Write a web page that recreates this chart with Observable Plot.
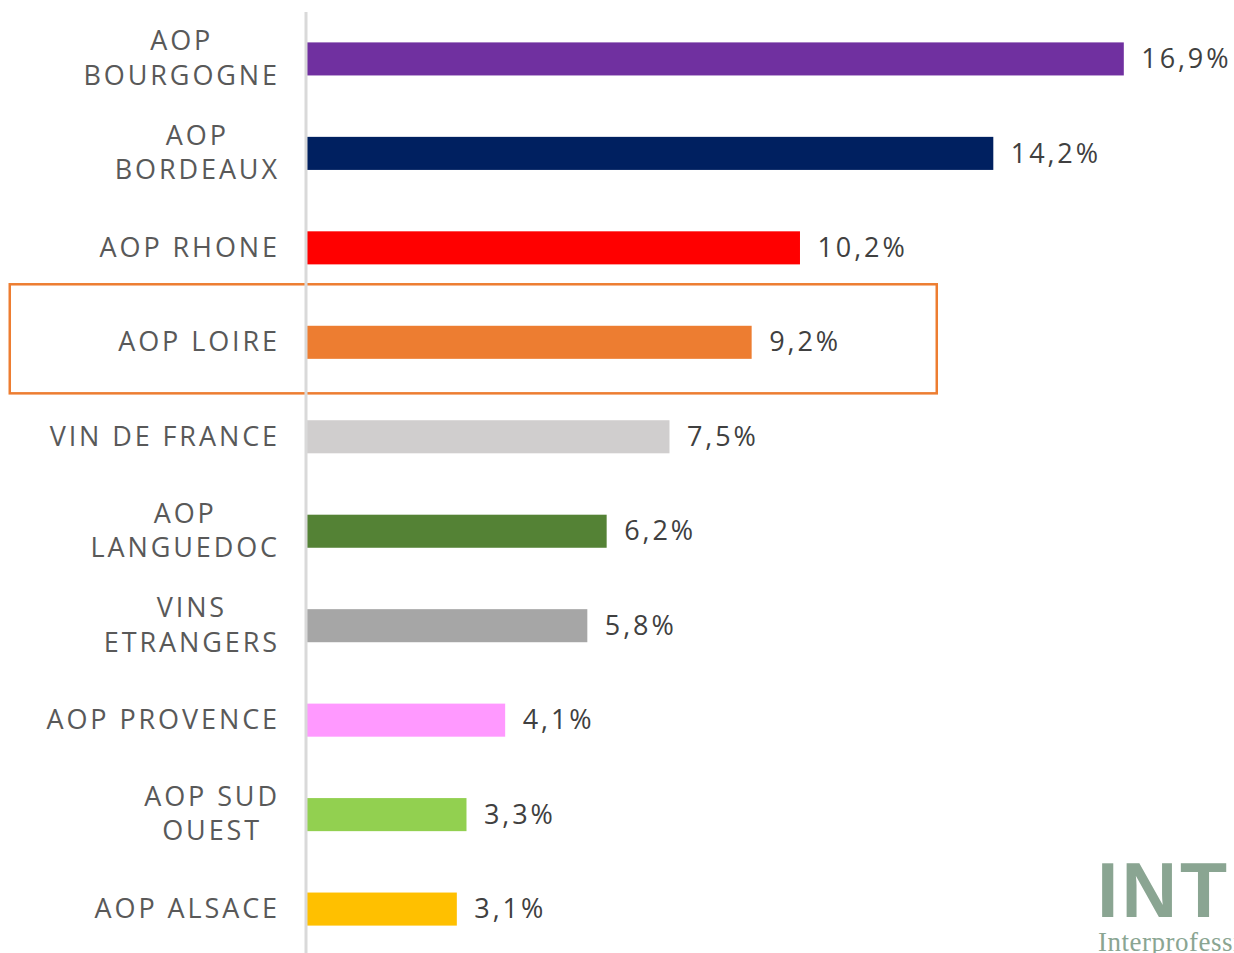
<!DOCTYPE html>
<html><head><meta charset="utf-8">
<script src="https://cdn.jsdelivr.net/npm/d3@7"></script>
<script src="https://cdn.jsdelivr.net/npm/@observablehq/plot@0.6"></script>
<style>
html,body{margin:0;padding:0;background:#fff;}
#chart{width:1234px;height:953px;overflow:hidden;}
</style></head>
<body><div id="chart"></div>
<script>
const categories = ["AOP\nBOURGOGNE","AOP\nBORDEAUX","AOP RHONE","AOP LOIRE","VIN DE FRANCE","AOP\nLANGUEDOC","VINS\nETRANGERS","AOP PROVENCE","AOP SUD\nOUEST","AOP ALSACE"];
const values = [16.9,14.2,10.2,9.2,7.5,6.2,5.8,4.1,3.3,3.1];
const valueLabels = ["16,9%","14,2%","10,2%","9,2%","7,5%","6,2%","5,8%","4,1%","3,3%","3,1%"];
const colors = ["#7030A0","#002060","#FF0000","#ED7D31","#D0CECE","#548235","#A6A6A6","#FF99FF","#92D050","#FFC000"];
const highlighted = "AOP LOIRE";
const highlightRange = [-6.15, 13.03];

const FONT = "Open Sans";
const FS = 27;
const LS = 2.9;
const ctx = document.createElement("canvas").getContext("2d");
ctx.font = `${FS}px "${FONT}"`;
const data = categories.map((c,i)=>{
  const lines = c.split("\n");
  const w = Math.max(...lines.map(l=>ctx.measureText(l).width + LS*l.length));
  return {cat:c, value:values[i], label:valueLabels[i], color:colors[i], w, multi: lines.length>1};
});

const chart = Plot.plot({
  width:1234, height:953,
  marginLeft:307, marginRight:8.7, marginTop:15, marginBottom:0,
  style:{fontFamily:FONT, background:"#fff"},
  x:{domain:[0,19], axis:null},
  y:{domain:categories, axis:null, paddingInner:0.65, paddingOuter:0.29, round:false},
  marks:[
    Plot.rect([{cat:highlighted}],{y:"cat", x1:highlightRange[0], x2:highlightRange[1], insetTop:-41.5, insetBottom:-34.5, fill:"none", stroke:"#ED7D31", strokeWidth:2.5}),
    Plot.barX(data,{y:"cat", x:"value", fill:"color"}),
    Plot.ruleX([0],{stroke:"#D9D9D9", strokeWidth:3, dx:-1.5, insetTop:-3}),
    ...data.map(d=>Plot.text([d],{y:"cat", x:0, text:"cat", textAnchor:"middle", dx:-(29 + d.w/2 - LS/2), dy:d.multi?-3:-2.5, fill:"#595959", fontSize:FS, lineHeight:1.28})),
    Plot.text(data,{y:"cat", x:"value", text:"label", textAnchor:"start", dx:17, dy:0, fill:"#404040", fontSize:FS})
  ]
});
document.getElementById("chart").appendChild(chart);
d3.select(chart).selectAll("g[aria-label='text'] text").style("letter-spacing", LS+"px");
</script>
<script>
// logo (decoration)
const svg = d3.select("#chart svg");
svg.append("text").attr("x",1097).attr("y",917).attr("text-anchor","start").attr("font-family","Liberation Sans").attr("font-weight","bold").attr("font-size",77).attr("fill","#8AA592").style("letter-spacing","3px").text("INT");
svg.append("text").attr("x",1098).attr("y",951).attr("text-anchor","start").attr("font-family","Liberation Serif").attr("font-size",27).attr("fill","#8AA592").style("letter-spacing","0.5px").text("Interprofession");
</script>
</body></html>
